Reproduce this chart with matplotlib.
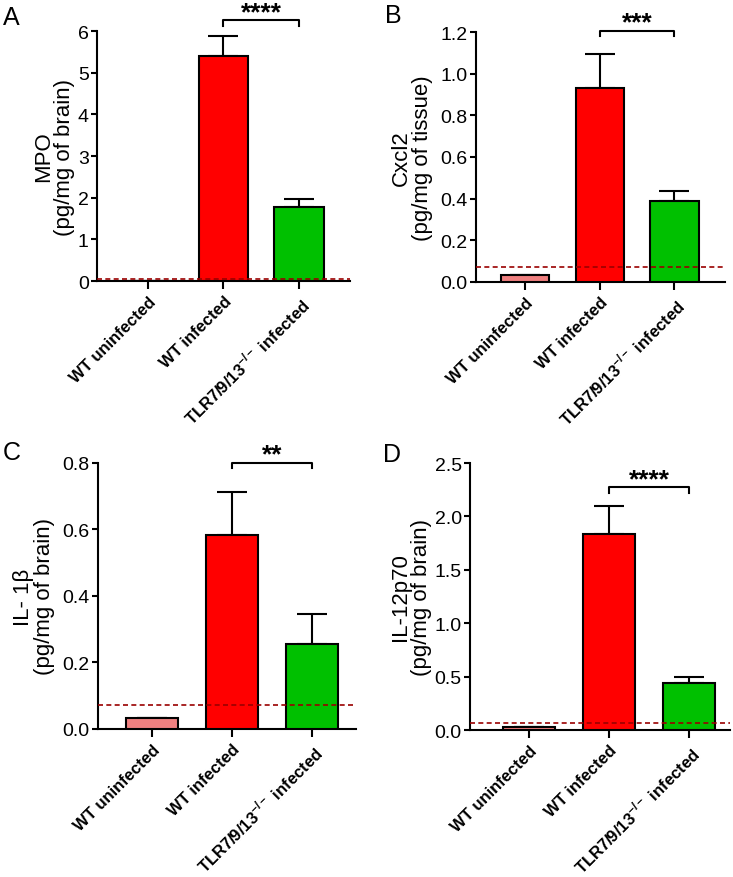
import matplotlib.pyplot as plt
import numpy as np

plt.rcParams['font.family'] = ['Liberation Sans', 'DejaVu Sans']
plt.rcParams['mathtext.fontset'] = 'custom'
plt.rcParams['mathtext.rm'] = 'Liberation Sans'
plt.rcParams['mathtext.bf'] = 'Liberation Sans:bold'

# Data
groups = ['WT uninfected', 'WT infected', r'TLR7/9/13$^{\mathbf{-/-}}$ infected']
bar_colors = ['#F08080', '#FF0000', '#00C000']

mpo_mean = [0.005, 5.39, 1.78]
mpo_err = [0.0, 0.48, 0.19]
cxcl2_mean = [0.034, 0.933, 0.39]
cxcl2_err = [0.0, 0.162, 0.045]
il1b_mean = [0.033, 0.582, 0.255]
il1b_err = [0.0, 0.131, 0.091]
il12_mean = [0.03, 1.834, 0.444]
il12_err = [0.0, 0.26, 0.05]

detection_limit = [0.06, 0.072, 0.071, 0.069]
stars = ['****', '***', '**', '****']

W, H = 733, 878

panels = [
    # letter, axes rect, ylabel, label x, means, errs, ylim, yticks, ticklabels, xlim,
    # bracket (y, tick_end, star baseline), letter position (px)
    ('A', [0.1323, 0.6788, 0.3452, 0.2847], 'MPO\n(pg/mg of brain)', -0.087, mpo_mean, mpo_err,
     (0, 6), [0, 1, 2, 3, 4, 5, 6], ['0', '1', '2', '3', '4', '5', '6'], (-0.675, 2.675),
     (6.27, 6.11, 6.274), (3, 25)),
    ('B', [0.6494, 0.6777, 0.3397, 0.2847], 'Cxcl2\n(pg/mg of tissue)', -0.173, cxcl2_mean, cxcl2_err,
     (0, 1.2), [0, 0.2, 0.4, 0.6, 0.8, 1.0, 1.2], ['0.0', '0.2', '0.4', '0.6', '0.8', '1.0', '1.2'],
     (-0.66, 2.68), (1.205, 1.18, 1.213), (385, 23)),
    ('C', [0.1337, 0.1686, 0.352, 0.303], 'IL- 1β\n(pg/mg of brain)', -0.167, il1b_mean, il1b_err,
     (0, 0.8), [0, 0.2, 0.4, 0.6, 0.8], ['0.0', '0.2', '0.4', '0.6', '0.8'], (-0.675, 2.55),
     (0.8, 0.784, 0.804), (3, 460)),
    ('D', [0.6412, 0.1674, 0.3547, 0.3041], 'IL-12p70\n(pg/mg of brain)', -0.146, il12_mean, il12_err,
     (0, 2.5), [0, 0.5, 1.0, 1.5, 2.0, 2.5], ['0.0', '0.5', '1.0', '1.5', '2.0', '2.5'], (-0.74, 2.51),
     (2.273, 2.217, 2.279), (383, 462)),
]

fig = plt.figure(figsize=(W / 100, H / 100), dpi=100)

for i, (letter, rect, ylabel, lx, means, errs, ylim, yticks, yticklabels, xlim, br, lpos) in enumerate(panels):
    ax = fig.add_axes(rect)
    x = np.arange(len(groups))
    ax.bar(x, means, width=0.65, color=bar_colors, edgecolor='black', linewidth=1.5, zorder=3)
    ax.errorbar(x, means, yerr=[np.zeros(3), errs], fmt='none', ecolor='black',
                elinewidth=1.5, capsize=11, capthick=1.5, zorder=2)
    ax.axhline(detection_limit[i], color='#990000', linestyle=(0, (3, 2)), linewidth=1.2, zorder=4)

    ax.set_xlim(*xlim)
    ax.set_ylim(*ylim)
    ax.set_yticks(yticks)
    ax.set_yticklabels(yticklabels, fontsize=14)
    ax.set_xticks(x)
    ax.set_xticklabels(groups, rotation=45, ha='right', rotation_mode='anchor',
                       fontsize=12, fontweight='bold')
    ax.set_ylabel(ylabel, fontsize=16, linespacing=1.0)
    ax.yaxis.set_label_coords(lx, 0.5)
    ax.tick_params(axis='y', direction='out', length=4, width=1.5, pad=2)
    ax.tick_params(axis='x', direction='out', length=6, width=1.5, pad=3)
    for side in ['top', 'right']:
        ax.spines[side].set_visible(False)
    for side in ['left', 'bottom']:
        ax.spines[side].set_linewidth(1.5)

    # significance bracket between infected groups
    by, bt, sy = br
    ax.plot([1, 1, 2, 2], [bt, by, by, bt], color='black', linewidth=1.5, clip_on=False)
    ax.text(1.5, sy, stars[i], ha='center', va='baseline', fontsize=19, fontweight='bold')

    # panel letter
    fig.text(lpos[0] / W, 1 - lpos[1] / H, letter, fontsize=18, va='baseline', ha='left')

fig.savefig('out.png', dpi=100)
